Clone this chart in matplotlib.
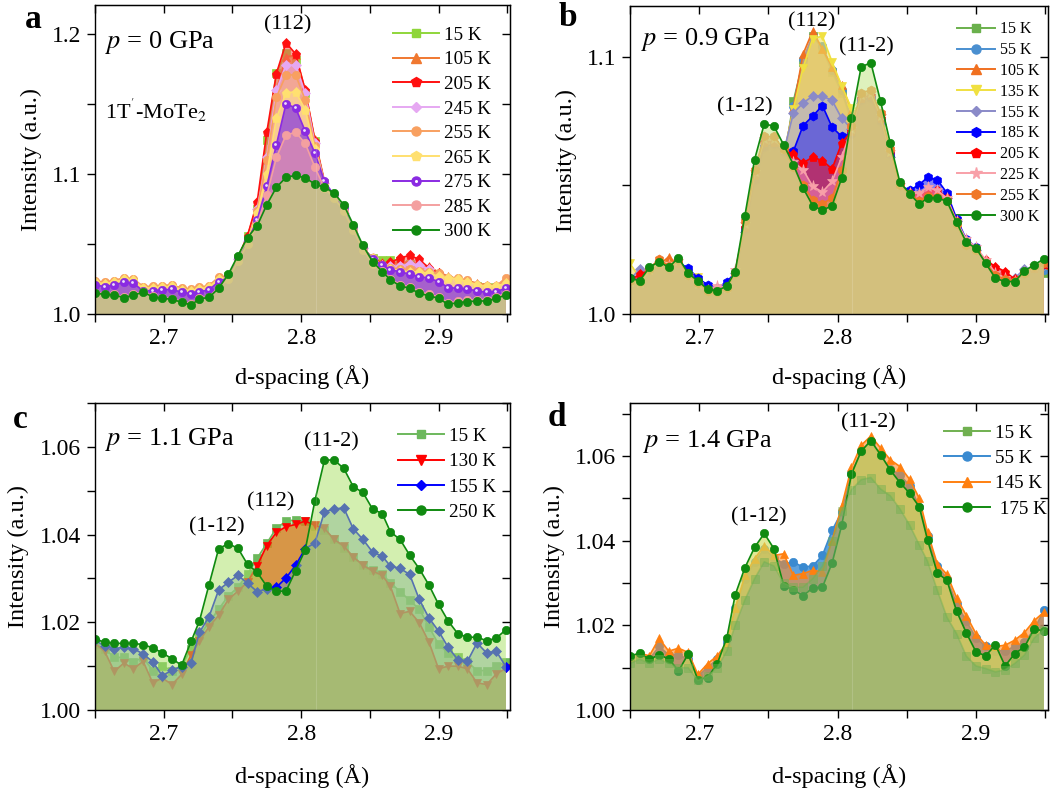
import matplotlib
matplotlib.use('Agg')
import matplotlib.pyplot as plt
from matplotlib.ticker import MultipleLocator, FuncFormatter, NullFormatter
from matplotlib.lines import Line2D
from matplotlib.legend_handler import HandlerTuple
from matplotlib.transforms import offset_copy

plt.rcParams['font.family'] = ['Liberation Serif', 'DejaVu Serif']
plt.rcParams['mathtext.fontset'] = 'stix'

# ---------------- data ----------------
d_spacing = [2.650, 2.657, 2.664, 2.671, 2.678, 2.685, 2.692, 2.699, 2.706, 2.713,
             2.720, 2.726, 2.733, 2.740, 2.747, 2.754, 2.761, 2.768, 2.775, 2.782,
             2.789, 2.796, 2.803, 2.810, 2.817, 2.824, 2.831, 2.838, 2.845, 2.852,
             2.859, 2.865, 2.872, 2.879, 2.886, 2.893, 2.900, 2.907, 2.914, 2.921,
             2.928, 2.935, 2.942, 2.949]

# panel a : p = 0 GPa
labels_a = ['15 K', '105 K', '205 K', '245 K', '255 K', '265 K', '275 K', '285 K', '300 K']
a_15K = [1.0215, 1.0205, 1.0215, 1.0235, 1.0230, 1.0175, 1.0178, 1.0182, 1.0185, 1.0165, 1.0158, 1.0170, 1.0182, 1.0240,
         1.027, 1.040, 1.056, 1.0753, 1.1247, 1.1725, 1.187, 1.182, 1.158, 1.124, 1.094, 1.080,
         1.070, 1.058, 1.047, 1.040, 1.0385, 1.0387, 1.038, 1.036, 1.033, 1.030, 1.027, 1.024, 1.023, 1.022, 1.020, 1.019, 1.019, 1.021]
a_105K = [1.0238, 1.0226, 1.0238, 1.0257, 1.0250, 1.0195, 1.0197, 1.0202, 1.0207, 1.0185, 1.0176, 1.0190, 1.0202, 1.0262,
          1.027, 1.040, 1.056, 1.078, 1.110, 1.160, 1.184, 1.185, 1.160, 1.125, 1.095, 1.082,
          1.072, 1.058, 1.047, 1.040, 1.037, 1.036, 1.037, 1.037, 1.036, 1.034, 1.030, 1.027, 1.025, 1.024, 1.022, 1.021, 1.020, 1.025]
a_205K = [1.0228, 1.0216, 1.0228, 1.0247, 1.0240, 1.0185, 1.0187, 1.0192, 1.0197, 1.0175, 1.0166, 1.0180, 1.0192, 1.0252,
          1.027, 1.040, 1.056, 1.080, 1.130, 1.172, 1.194, 1.186, 1.160, 1.124, 1.094, 1.082,
          1.072, 1.058, 1.047, 1.040, 1.036, 1.037, 1.040, 1.042, 1.039, 1.033, 1.029, 1.025, 1.024, 1.023, 1.021, 1.020, 1.020, 1.022]
a_245K = [1.0218, 1.0206, 1.0218, 1.0237, 1.0230, 1.0175, 1.0177, 1.0182, 1.0187, 1.0165, 1.0156, 1.0170, 1.0182, 1.0242,
          1.026, 1.039, 1.052, 1.075, 1.112, 1.160, 1.178, 1.178, 1.158, 1.122, 1.094, 1.082,
          1.072, 1.058, 1.047, 1.040, 1.035, 1.034, 1.034, 1.036, 1.035, 1.032, 1.028, 1.025, 1.024, 1.022, 1.020, 1.019, 1.019, 1.021]
a_255K = [1.0238, 1.0226, 1.0238, 1.0257, 1.0250, 1.0195, 1.0197, 1.0202, 1.0207, 1.0185, 1.0176, 1.0190, 1.0202, 1.0262,
          1.026, 1.039, 1.052, 1.074, 1.110, 1.155, 1.171, 1.171, 1.153, 1.120, 1.094, 1.082,
          1.072, 1.058, 1.047, 1.040, 1.035, 1.033, 1.032, 1.032, 1.031, 1.030, 1.029, 1.026, 1.026, 1.024, 1.021, 1.020, 1.020, 1.026]
a_265K = [1.0228, 1.0216, 1.0228, 1.0247, 1.0240, 1.0185, 1.0187, 1.0192, 1.0197, 1.0175, 1.0166, 1.0180, 1.0192, 1.0252,
          1.026, 1.039, 1.052, 1.072, 1.100, 1.140, 1.158, 1.159, 1.146, 1.118, 1.093, 1.082,
          1.072, 1.058, 1.047, 1.040, 1.034, 1.032, 1.031, 1.030, 1.030, 1.029, 1.027, 1.026, 1.025, 1.023, 1.021, 1.020, 1.020, 1.022]
a_275K = [1.0208, 1.0196, 1.0208, 1.0227, 1.0220, 1.0165, 1.0167, 1.0172, 1.0177, 1.0155, 1.0146, 1.0160, 1.0172, 1.0232,
          1.026, 1.039, 1.052, 1.0674, 1.0913, 1.1211, 1.1503, 1.1474, 1.1307, 1.1152, 1.0949, 1.0850,
          1.076, 1.062, 1.048, 1.039, 1.0351, 1.0315, 1.0303, 1.0284, 1.0268, 1.0256, 1.0232, 1.0189, 1.0184, 1.0179, 1.0165, 1.0155, 1.0160, 1.0185]
a_285K = [1.0153, 1.0146, 1.0141, 1.0122, 1.0141, 1.0160, 1.0129, 1.0117, 1.0110, 1.0089, 1.0070, 1.0113, 1.0124, 1.0189,
          1.025, 1.038, 1.050, 1.064, 1.085, 1.112, 1.128, 1.130, 1.122, 1.105, 1.090, 1.083,
          1.074, 1.060, 1.046, 1.036, 1.031, 1.025, 1.021, 1.0194, 1.0158, 1.0141, 1.0122, 1.0079, 1.0091, 1.0098, 1.0103, 1.0103, 1.0122, 1.0146]
a_300K = [1.0148, 1.0141, 1.0136, 1.0117, 1.0136, 1.0155, 1.0124, 1.0112, 1.0105, 1.0084, 1.0065, 1.0108, 1.0119, 1.0184,
          1.0284, 1.0418, 1.0547, 1.0631, 1.0781, 1.0906, 1.0977, 1.0992, 1.0973, 1.0930, 1.0906, 1.0865,
          1.0781, 1.0638, 1.0490, 1.0375, 1.0303, 1.0244, 1.0201, 1.0184, 1.0148, 1.0131, 1.0112, 1.0069, 1.0081, 1.0088, 1.0093, 1.0093, 1.0112, 1.0136]

# panel b : p = 0.9 GPa
labels_b = ['15 K', '55 K', '105 K', '135 K', '155 K', '185 K', '205 K', '225 K', '255 K', '300 K']
b_15K = [1.0070, 1.0065, 1.0105, 1.0130, 1.0115, 1.0140, 1.0090, 1.0065, 1.0040, 1.0035, 1.0055, 1.0100, 1.0270, 1.0450,
         1.0580, 1.0590, 1.0580, 1.0827, 1.0980, 1.1080, 1.1030, 1.0940, 1.0860, 1.0750, 1.0750, 1.0760, 1.0680, 1.0560,
         1.0440, 1.0410, 1.0410, 1.0420, 1.0410, 1.0390, 1.0320, 1.0240, 1.0210, 1.0160, 1.0130, 1.0120, 1.0110, 1.0140, 1.0140, 1.0160]
b_55K = [1.0080, 1.0075, 1.0115, 1.0140, 1.0125, 1.0150, 1.0100, 1.0075, 1.0045, 1.0040, 1.0060, 1.0110, 1.0280, 1.0460,
         1.0590, 1.0600, 1.0590, 1.0810, 1.0990, 1.1080, 1.1040, 1.0950, 1.0870, 1.0760, 1.0760, 1.0770, 1.0690, 1.0570,
         1.0450, 1.0420, 1.0420, 1.0430, 1.0420, 1.0400, 1.0330, 1.0250, 1.0220, 1.0170, 1.0140, 1.0130, 1.0120, 1.0150, 1.0150, 1.0170]
b_105K = [1.0130, 1.0120, 1.0160, 1.0190, 1.0223, 1.0190, 1.0150, 1.0120, 1.0095, 1.0085, 1.0100, 1.0150, 1.0300, 1.0480,
          1.0610, 1.0620, 1.0610, 1.0800, 1.1010, 1.1100, 1.1030, 1.0960, 1.0890, 1.0790, 1.0790, 1.0800, 1.0710, 1.0590,
          1.0470, 1.0440, 1.0440, 1.0450, 1.0440, 1.0420, 1.0350, 1.0270, 1.0240, 1.0190, 1.0150, 1.0130, 1.0125, 1.0165, 1.0175, 1.0190]
b_135K = [1.0197, 1.0140, 1.0160, 1.0185, 1.0170, 1.0190, 1.0160, 1.0145, 1.0100, 1.0090, 1.0105, 1.0150, 1.0300, 1.0490,
          1.0620, 1.0630, 1.0620, 1.0795, 1.0957, 1.1070, 1.1080, 1.0980, 1.0886, 1.0800, 1.0800, 1.0810, 1.0720, 1.0600,
          1.0480, 1.0450, 1.0450, 1.0460, 1.0450, 1.0430, 1.0350, 1.0270, 1.0240, 1.0190, 1.0150, 1.0155, 1.0125, 1.0155, 1.0165, 1.0185]
b_155K = [1.0135, 1.0174, 1.0165, 1.0190, 1.0175, 1.0195, 1.0150, 1.0120, 1.0100, 1.0095, 1.0110, 1.0160, 1.0320, 1.0510,
          1.0640, 1.0650, 1.0630, 1.0780, 1.0820, 1.0847, 1.0847, 1.0830, 1.0760, 1.0720, 1.0820, 1.0830, 1.0740, 1.0610,
          1.0490, 1.0460, 1.0470, 1.0480, 1.0470, 1.0450, 1.0360, 1.0280, 1.0250, 1.0200, 1.0150, 1.0130, 1.0140, 1.0175, 1.0170, 1.0190]
b_185K = [1.0140, 1.0130, 1.0170, 1.0195, 1.0180, 1.0200, 1.0178, 1.0140, 1.0113, 1.0100, 1.0126, 1.0160, 1.0330, 1.0520,
          1.0650, 1.0660, 1.0630, 1.0632, 1.0732, 1.0769, 1.0810, 1.0726, 1.0690, 1.0700, 1.0830, 1.0840, 1.0750, 1.0620,
          1.0500, 1.0480, 1.0503, 1.0531, 1.0522, 1.0470, 1.0370, 1.0290, 1.0260, 1.0200, 1.0150, 1.0130, 1.0125, 1.0155, 1.0180, 1.0195]
b_205K = [1.0130, 1.0155, 1.0170, 1.0195, 1.0180, 1.0200, 1.0150, 1.0120, 1.0095, 1.0095, 1.0105, 1.0165, 1.0340, 1.0540,
          1.0670, 1.0670, 1.0640, 1.0620, 1.0587, 1.0610, 1.0596, 1.0564, 1.0665, 1.0710, 1.0840, 1.0850, 1.0760, 1.0630,
          1.0500, 1.0470, 1.0460, 1.0475, 1.0483, 1.0450, 1.0360, 1.0280, 1.0250, 1.0210, 1.0184, 1.0165, 1.0135, 1.0160, 1.0180, 1.0195]
b_225K = [1.0125, 1.0120, 1.0170, 1.0200, 1.0190, 1.0205, 1.0150, 1.0115, 1.0095, 1.0110, 1.0100, 1.0170, 1.0350, 1.0550,
          1.0680, 1.0680, 1.0640, 1.0590, 1.0561, 1.0496, 1.0474, 1.0516, 1.0610, 1.0720, 1.0850, 1.0860, 1.0770, 1.0630,
          1.0500, 1.0470, 1.0470, 1.0492, 1.0480, 1.0450, 1.0360, 1.0290, 1.0260, 1.0210, 1.0160, 1.0140, 1.0130, 1.0165, 1.0185, 1.0200]
b_255K = [1.0130, 1.0125, 1.0175, 1.0215, 1.0185, 1.0210, 1.0150, 1.0120, 1.0090, 1.0085, 1.0100, 1.0160, 1.0360, 1.0560,
          1.0690, 1.0690, 1.0640, 1.0570, 1.0500, 1.0444, 1.0429, 1.0450, 1.0560, 1.0730, 1.0860, 1.0870, 1.0780, 1.0640,
          1.0500, 1.0465, 1.0440, 1.0460, 1.0455, 1.0440, 1.0350, 1.0270, 1.0250, 1.0200, 1.0150, 1.0135, 1.0130, 1.0160, 1.0185, 1.0200]
b_300K = [1.0139, 1.0129, 1.0181, 1.0204, 1.0181, 1.0219, 1.0158, 1.0129, 1.0096, 1.0090, 1.0109, 1.0165, 1.0382, 1.0600,
          1.0739, 1.0730, 1.0658, 1.0581, 1.0490, 1.0421, 1.0403, 1.0421, 1.0529, 1.0762, 1.0960, 1.0977, 1.0827, 1.0665,
          1.0512, 1.0468, 1.0427, 1.0451, 1.0451, 1.0438, 1.0356, 1.0278, 1.0256, 1.0197, 1.0139, 1.0126, 1.0126, 1.0168, 1.0191, 1.0214]

# panel c : p = 1.1 GPa
labels_c = ['15 K', '130 K', '155 K', '250 K']
c_15K = [1.0150, 1.0140, 1.0120, 1.0120, 1.0110, 1.0120, 1.0090, 1.0100, 1.0090, 1.0100, 1.0140, 1.0170, 1.0200, 1.0230,
         1.0260, 1.0280, 1.0310, 1.0346, 1.0380, 1.0415, 1.0430, 1.0434, 1.0430, 1.0420, 1.0410, 1.0390, 1.0370, 1.0350,
         1.0330, 1.0320, 1.0310, 1.0290, 1.0270, 1.0250, 1.0230, 1.0190, 1.0150, 1.0130, 1.0120, 1.0110, 1.0090, 1.0090, 1.0100, 1.0110]
c_130K = [1.0152, 1.0134, 1.0088, 1.0107, 1.0094, 1.0111, 1.0062, 1.0073, 1.0058, 1.0081, 1.0126, 1.0157, 1.0190, 1.0216,
          1.0252, 1.0271, 1.0292, 1.0329, 1.0375, 1.0405, 1.0418, 1.0423, 1.0431, 1.0421, 1.0414, 1.0389, 1.0374, 1.0349,
          1.0330, 1.0317, 1.0307, 1.0282, 1.0220, 1.0225, 1.0199, 1.0155, 1.0094, 1.0100, 1.0100, 1.0094, 1.0062, 1.0058, 1.0082, 1.0095]
c_155K = [1.0160, 1.0145, 1.0140, 1.0143, 1.0140, 1.0128, 1.0110, 1.0078, 1.0091, 1.0099, 1.0108, 1.0177, 1.0213, 1.0274,
          1.0291, 1.0307, 1.0289, 1.0270, 1.0276, 1.0280, 1.0301, 1.0330, 1.0368, 1.0381, 1.0452, 1.0458, 1.0461, 1.0413,
          1.0389, 1.0360, 1.0351, 1.0328, 1.0323, 1.0309, 1.0252, 1.0210, 1.0180, 1.0143, 1.0115, 1.0111, 1.0153, 1.0130, 1.0134, 1.0099]
c_250K = [1.0161, 1.0155, 1.0152, 1.0152, 1.0152, 1.0149, 1.0142, 1.0130, 1.0117, 1.0102, 1.0157, 1.0203, 1.0286, 1.0368,
          1.0379, 1.0369, 1.0332, 1.0314, 1.0282, 1.0271, 1.0271, 1.0318, 1.0365, 1.0477, 1.0570, 1.0570, 1.0551, 1.0509,
          1.0496, 1.0458, 1.0448, 1.0406, 1.0389, 1.0353, 1.0322, 1.0285, 1.0241, 1.0203, 1.0174, 1.0166, 1.0166, 1.0158, 1.0164, 1.0183]

# panel d : p = 1.4 GPa
labels_d = ['15 K', '55 K', '145 K', ' 175 K']
d_15K = [1.0110, 1.0120, 1.0110, 1.0120, 1.0110, 1.0100, 1.0100, 1.0070, 1.0080, 1.0100, 1.0140, 1.0200, 1.0260, 1.0310,
         1.0350, 1.0340, 1.0300, 1.0290, 1.0290, 1.0310, 1.0340, 1.0400, 1.0470, 1.0520, 1.0544, 1.0549, 1.0522, 1.0506,
         1.0475, 1.0437, 1.0390, 1.0351, 1.0283, 1.0219, 1.0180, 1.0127, 1.0104, 1.0098, 1.0090, 1.0095, 1.0110, 1.0130, 1.0170, 1.0190]
d_55K = [1.0120, 1.0130, 1.0120, 1.0150, 1.0130, 1.0130, 1.0120, 1.0080, 1.0100, 1.0120, 1.0160, 1.0240, 1.0310, 1.0350,
         1.0380, 1.0360, 1.0345, 1.0349, 1.0338, 1.0340, 1.0365, 1.0424, 1.0468, 1.0560, 1.0610, 1.0630, 1.0600, 1.0570,
         1.0555, 1.0530, 1.0480, 1.0410, 1.0340, 1.0310, 1.0250, 1.0210, 1.0170, 1.0150, 1.0140, 1.0140, 1.0150, 1.0160, 1.0190, 1.0235]
d_145K = [1.0126, 1.0134, 1.0128, 1.0169, 1.0139, 1.0146, 1.0136, 1.0084, 1.0109, 1.0128, 1.0158, 1.0240, 1.0318, 1.0357,
          1.0388, 1.0365, 1.0369, 1.0318, 1.0322, 1.0330, 1.0326, 1.0400, 1.0482, 1.0573, 1.0625, 1.0647, 1.0619, 1.0591,
          1.0575, 1.0545, 1.0500, 1.0420, 1.0345, 1.0320, 1.0265, 1.0223, 1.0180, 1.0153, 1.0150, 1.0153, 1.0165, 1.0183, 1.0211, 1.0231]
d_175K = [1.0128, 1.0134, 1.0120, 1.0130, 1.0121, 1.0092, 1.0132, 1.0072, 1.0076, 1.0109, 1.0171, 1.0272, 1.0336, 1.0384,
          1.0417, 1.0381, 1.0294, 1.0284, 1.0270, 1.0288, 1.0290, 1.0347, 1.0437, 1.0557, 1.0611, 1.0636, 1.0603, 1.0567,
          1.0537, 1.0512, 1.0480, 1.0401, 1.0324, 1.0306, 1.0233, 1.0182, 1.0137, 1.0128, 1.0154, 1.0104, 1.0133, 1.0149, 1.0191, 1.0187]

# ---------------- styles ----------------
# (line colour, marker, fill colour, fill alpha, marker size)
sty_a = [('#8fd63a', 's', '#a8e070', 0.55, 5.5),
         ('#f07830', '^', '#f8a060', 0.55, 6),
         ('#ff1010', 'p', '#ff5050', 0.55, 6.5),
         ('#e6a8f2', 'D', '#e8b0f0', 0.55, 5),
         ('#f8a060', 'o', '#f8b080', 0.55, 6),
         ('#ffe070', 'p', '#ffe890', 0.55, 6.5),
         ('#8a2be2', 'o', '#8a3ee0', 0.75, 6),
         ('#f4a0a0', 'o', '#f0a0a8', 0.55, 6),
         ('#108a10', 'o', '#c4e070', 0.62, 6)]
sty_b = [('#6ab04c', 's', '#a0d080', 0.6, 5.5),
         ('#4a8fd0', 'o', '#80b0e0', 0.6, 6),
         ('#f07020', '^', '#f8a060', 0.6, 6),
         ('#f0e040', 'v', '#f0e060', 0.6, 6),
         ('#8a8ac8', 'D', '#b0b0d8', 0.6, 5),
         ('#0000ff', 'h', '#3030f0', 0.6, 6.5),
         ('#ff0000', 'p', '#e01030', 0.6, 6.5),
         ('#f8a0a8', '*', '#f080b0', 0.6, 8),
         ('#f07828', 'h', '#f0a040', 0.6, 6.5),
         ('#108a10', 'o', '#c8e890', 0.6, 6)]
sty_c = [('#6cb85c', 's', '#8cc070', 0.5, 5.5),
         ('#ff0000', 'v', '#e07818', 0.7, 6),
         ('#0000ff', 'D', '#7090c0', 0.5, 5),
         ('#108a10', 'o', '#aae164', 0.51, 6)]
sty_d = [('#70b050', 's', '#7fac7c', 0.5, 5.5),
         ('#3a8ad0', 'o', '#2882d2', 0.75, 6),
         ('#ff8010', '^', '#ff8c28', 0.6, 6),
         ('#108a10', 'o', '#d2dd5e', 0.65, 6)]


def draw_series(ax, y, st, z, art_alpha=1.0, highlight=False):
    lc, mk, fc, fa, ms = st
    ax.fill_between(d_spacing, 1.0, y, facecolor=fc, alpha=fa, lw=0, zorder=z)
    ax.plot(d_spacing, y, color=lc, lw=1.2, marker=mk, ms=ms, mfc=lc, mec=lc,
            mew=0.5, alpha=art_alpha, zorder=z + 1)
    if highlight:
        tr = offset_copy(ax.transData, fig=ax.figure, x=-1.0, y=1.0, units='dots')
        ax.plot(d_spacing, y, ls='none', marker='o', ms=2.0, mfc='white',
                mec='none', alpha=0.85, transform=tr, zorder=z + 1.5)


def handle(st):
    lc, mk, fc, fa, ms = st
    return Line2D([], [], color=lc, lw=1.4, marker=mk, ms=ms + 0.5, mfc=lc, mec=lc)


def style_axes(ax, ylim, ystep, ylabfmt, ylabel_every):
    ax.set_xlim(2.65, 2.952)
    ax.set_ylim(*ylim)
    ax.xaxis.set_major_locator(MultipleLocator(0.05))
    ax.yaxis.set_major_locator(MultipleLocator(ystep))

    def xf(v, p):
        k = round(v * 100)
        return f'{v:.1f}' if k % 10 == 0 else ''

    def yf(v, p):
        k = round((v - 1.0) / ystep)
        return ylabfmt.format(v) if k % ylabel_every == 0 else ''

    ax.xaxis.set_major_formatter(FuncFormatter(xf))
    ax.yaxis.set_major_formatter(FuncFormatter(yf))
    ax.tick_params(direction='out', length=6, width=1.0, labelsize=17,
                   top=False, right=False, pad=4)
    for s in ax.spines.values():
        s.set_linewidth(1.0)
        s.set_zorder(100)
    sx = ax.secondary_xaxis('top')
    sx.xaxis.set_major_locator(MultipleLocator(0.05))
    sx.xaxis.set_major_formatter(NullFormatter())
    sx.tick_params(direction='in', length=6, width=1.0)
    sy = ax.secondary_yaxis('right')
    sy.yaxis.set_major_locator(MultipleLocator(ystep))
    sy.yaxis.set_major_formatter(NullFormatter())
    sy.tick_params(direction='in', length=6, width=1.0)
    ax.set_xlabel('d-spacing (Å)', fontsize=17.5)
    ax.set_ylabel('Intensity (a.u.)', fontsize=17.5)
    ax.axvline(2.8105, color='white', lw=0.8, alpha=0.15, zorder=60)


W, H = 1055, 800
fig = plt.figure(figsize=(W / 100, H / 100), dpi=100)


def axes_px(l, t, r, b):
    return fig.add_axes([l / W, 1 - b / H, (r - l) / W, (b - t) / H])


ax_a = axes_px(95, 5, 510, 314)
ax_b = axes_px(630, 6, 1048, 314)
ax_c = axes_px(95, 403, 510, 710)
ax_d = axes_px(630, 403, 1048, 710)

# ---- panel a
series_a = [a_15K, a_105K, a_205K, a_245K, a_255K, a_265K, a_275K, a_285K, a_300K]
for k, (y, st) in enumerate(zip(series_a, sty_a)):
    draw_series(ax_a, y, st, 2 + 2 * k, highlight=(labels_a[k] == '275 K'))
style_axes(ax_a, (1.0, 1.221), 0.05, '{:.1f}', 2)
hs = []
for lab, st in zip(labels_a, sty_a):
    h = handle(st)
    if lab == '275 K':
        h = (h, Line2D([], [], ls='none', marker='o', ms=2.2, mfc='white', mec='none'))
    hs.append(h)
ax_a.legend(hs, labels_a, loc='upper left', bbox_to_anchor=(0.718, 0.93), frameon=False,
            fontsize=13.7, borderpad=0, borderaxespad=0, handlelength=2.4, handletextpad=0.3,
            labelspacing=0.38, handler_map={tuple: HandlerTuple(ndivide=1)})
ax_a.text(0.024, 0.88, '$p$ = 0 GPa', transform=ax_a.transAxes, fontsize=19, va='center')
ax_a.text(0.024, 0.66, "1T$^{'}$-MoTe$_2$", transform=ax_a.transAxes, fontsize=16, va='center')
ax_a.text(2.79, 1.207, '(112)', fontsize=16, ha='center', va='center', zorder=200)

# ---- panel b
series_b = [b_15K, b_55K, b_105K, b_135K, b_155K, b_185K, b_205K, b_225K, b_255K, b_300K]
for k, (y, st) in enumerate(zip(series_b, sty_b)):
    draw_series(ax_b, y, st, 2 + 2 * k)
style_axes(ax_b, (1.0, 1.1197), 0.05, '{:.1f}', 2)
ax_b.legend([handle(s) for s in sty_b], labels_b, loc='upper left', bbox_to_anchor=(0.782, 0.95),
            frameon=False, fontsize=11.5, borderpad=0, borderaxespad=0, handlelength=2.4,
            handletextpad=0.3, labelspacing=0.3)
ax_b.text(0.026, 0.89, '$p$ = 0.9 GPa', transform=ax_b.transAxes, fontsize=19, va='center')
ax_b.text(2.781, 1.1134, '(112)', fontsize=16, ha='center', va='center', zorder=200)
ax_b.text(2.733, 1.0806, '(1-12)', fontsize=16, ha='center', va='center', zorder=200)
ax_b.text(2.821, 1.104, '(11-2)', fontsize=16, ha='center', va='center', zorder=200)

# ---- panel c
series_c = [c_15K, c_130K, c_155K, c_250K]
for k, (y, st) in enumerate(zip(series_c, sty_c)):
    draw_series(ax_c, y, st, 2 + 2 * k)
style_axes(ax_c, (1.0, 1.07), 0.01, '{:.2f}', 2)
ax_c.legend([handle(s) for s in sty_c], labels_c, loc='upper left', bbox_to_anchor=(0.73, 0.92),
            frameon=False, fontsize=13.7, borderpad=0, borderaxespad=0, handlelength=2.4,
            handletextpad=0.3, labelspacing=0.42)
ax_c.text(0.024, 0.88, '$p$ = 1.1 GPa', transform=ax_c.transAxes, fontsize=19, va='center')
ax_c.text(2.739, 1.0418, '(1-12)', fontsize=16, ha='center', va='center', zorder=200)
ax_c.text(2.778, 1.0475, '(112)', fontsize=16, ha='center', va='center', zorder=200)
ax_c.text(2.822, 1.0612, '(11-2)', fontsize=16, ha='center', va='center', zorder=200)

# ---- panel d  (15 K curve drawn last, over the others)
series_d = [d_15K, d_55K, d_145K, d_175K]
order_d = [1, 2, 3, 0]
for j, k in enumerate(order_d):
    draw_series(ax_d, series_d[k], sty_d[k], 2 + 2 * j, art_alpha=(0.45 if k == 0 else 1.0))
style_axes(ax_d, (1.0, 1.0725), 0.01, '{:.2f}', 2)
ax_d.legend([handle(s) for s in sty_d], labels_d, loc='upper left', bbox_to_anchor=(0.751, 0.93),
            frameon=False, fontsize=13.7, borderpad=0, borderaxespad=0, handlelength=2.4,
            handletextpad=0.3, labelspacing=0.42)
ax_d.text(0.031, 0.873, '$p$ = 1.4 GPa', transform=ax_d.transAxes, fontsize=19, va='center')
ax_d.text(2.743, 1.0457, '(1-12)', fontsize=16, ha='center', va='center', zorder=200)
ax_d.text(2.822, 1.0678, '(11-2)', fontsize=16, ha='center', va='center', zorder=200)

# label positions
ax_a.yaxis.set_label_coords(-0.128, 0.5)
ax_b.yaxis.set_label_coords(-0.127, 0.5)
ax_c.yaxis.set_label_coords(-0.159, 0.5)
ax_d.yaxis.set_label_coords(-0.1555, 0.5)
for ax in (ax_a, ax_b):
    ax.xaxis.set_label_coords(0.5, -0.165)
for ax in (ax_c, ax_d):
    ax.xaxis.set_label_coords(0.5, -0.175)

# panel letters
for lab, (px, py) in zip('abcd', [(33, 20), (568, 17), (20, 419), (557, 418)]):
    fig.text(px / W, 1 - py / H, lab, fontsize=24, fontweight='bold', ha='center', va='center')

fig.savefig('out.png', dpi=100)
